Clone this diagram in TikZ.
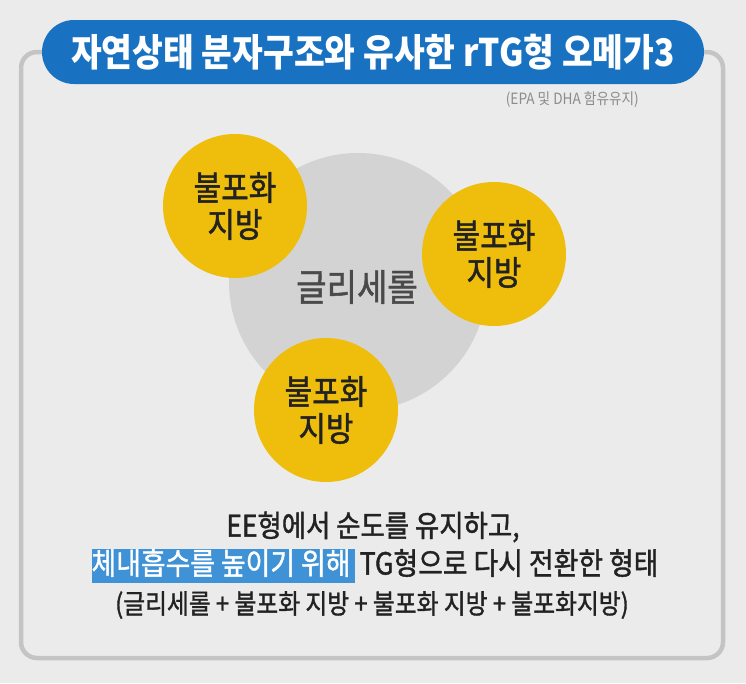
\documentclass[tikz,border=0pt]{standalone}
\usepackage{fontspec}
\newfontfamily\kr[FakeStretch=0.88]{Noto Sans CJK KR}
\newfontfamily\krm[FakeStretch=0.88,FakeBold=1.3]{Noto Sans CJK KR}
\definecolor{bg}{RGB}{235,235,235}
\definecolor{framec}{RGB}{196,196,196}
\definecolor{pill}{RGB}{24,113,193}
\definecolor{glyc}{RGB}{211,211,211}
\definecolor{glytxt}{RGB}{74,74,74}
\definecolor{fat}{RGB}{239,190,12}
\definecolor{hl}{RGB}{64,146,214}
\definecolor{txt}{RGB}{34,34,34}
\definecolor{subc}{RGB}{140,140,140}
\tikzset{
  fatc/.style={circle, fill=fat, minimum size=144pt, inner sep=0pt, align=center, text=txt,
    font=\krm\fontsize{34}{37}\selectfont},
  bodytxt/.style={text=txt, inner sep=0pt, align=center}
}
\begin{document}
\begin{tikzpicture}[x=1pt,y=-1pt]
\fill[bg] (0,0) rectangle (746,683);
\useasboundingbox (0,0) rectangle (746,683);
\draw[framec, line width=4.5pt, rounded corners=16pt] (21,52) rectangle (723,658);
\node[fill=pill, rounded corners=32pt, minimum width=662pt, minimum height=64pt, inner sep=0pt,
  text=white, font=\kr\bfseries\fontsize{38}{44}\selectfont] (title) at (373,52)
  {자연상태 분자구조와 유사한 rTG형 오메가3};
\node[anchor=east, text=subc, inner sep=0pt, font=\kr\fontsize{15.5}{18}\selectfont] (sub) at (639,100)
  {(EPA 및 DHA 함유유지)};
\node[circle, fill=glyc, minimum size=258pt, inner sep=0pt] (gly) at (358,282) {};
\node[text=glytxt, font=\krm\fontsize{37.5}{44}\selectfont, inner sep=0pt] (glyt) at (357,287) {글리세롤};
\node[fatc] (f1) at (235,206) {불포화\\지방};
\node[fatc] (f2) at (494,254) {불포화\\지방};
\node[fatc] (f3) at (326,410) {불포화\\지방};
\node[bodytxt, font=\krm\fontsize{30}{36}\selectfont] (l1) at (373,527) {EE형에서 순도를 유지하고,};
\node[bodytxt, font=\krm\fontsize{30.5}{36}\selectfont] (l2) at (375,566)
  {\setlength{\fboxsep}{0pt}\colorbox{hl}{\rule[-0.28em]{0pt}{1.07em}\textcolor{white}{체내흡수를 높이기 위해}\hspace{0.15em}}\hspace{0.15em}TG형으로 다시 전환한 형태};
\node[bodytxt, font=\krm\fontsize{27}{32}\selectfont] (l3) at (372,605)
  {(글리세롤 + 불포화 지방 + 불포화 지방 + 불포화지방)};
\end{tikzpicture}
\end{document}
